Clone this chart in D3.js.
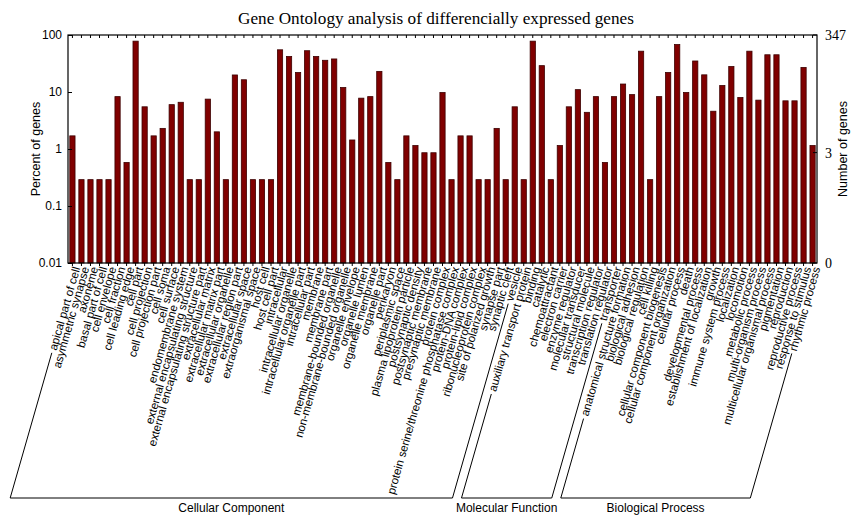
<!DOCTYPE html>
<html>
<head>
<meta charset="utf-8">
<script src="https://cdn.jsdelivr.net/npm/d3@7"></script>
<style>
  body { margin: 0; background: #fff; }
  svg  { display: block; }
</style>
</head>
<body>
<div id="chart"></div>
<script>
// ############################################################################
// Gene Ontology bar chart (log scale, three GO groups)
// ############################################################################

// ----------------------------------------------------------------------------
// Data
// ----------------------------------------------------------------------------

const cellularComponent = [
  "apical part of cell", "asymmetric synapse", "axoneme", "basal part of cell",
  "cell envelope", "cell fraction", "cell leading edge", "cell part",
  "cell projection", "cell projection part", "cell soma", "cell surface",
  "endomembrane system", "external encapsulating structure",
  "external encapsulating structure part", "extracellular matrix",
  "extracellular matrix part", "extracellular organelle",
  "extracellular region part", "extracellular space", "extraorganismal space",
  "host cell", "host cell part", "intracellular", "intracellular organelle",
  "intracellular organelle part", "intracellular part", "membrane",
  "membrane part", "membrane-bounded organelle",
  "non-membrane-bounded organelle", "organelle envelope", "organelle lumen",
  "organelle membrane", "organelle part", "perikaryon", "periplasmic space",
  "plasma lipoprotein particle", "postsynaptic density",
  "postsynaptic membrane", "presynaptic membrane", "protein complex",
  "protein serine/threonine phosphatase complex", "protein-DNA complex",
  "protein-lipid complex", "ribonucleoprotein complex",
  "site of polarized growth", "synapse part", "synaptic cleft", "vesicle"
]
const cellularValues = [
  1.7, 0.29, 0.29, 0.29, 0.29, 8.3, 0.58, 78, 5.5, 1.7, 2.3, 6.0, 6.6, 0.29,
  0.29, 7.5, 2.0, 0.29, 19.9, 16.4, 0.29, 0.29, 0.29, 55, 42, 22, 53, 42, 36,
  38, 12, 1.44, 7.8, 8.3, 23, 0.58, 0.29, 1.7, 1.15, 0.86, 0.86, 9.8, 0.29,
  1.7, 1.7, 0.29, 0.29, 2.3, 0.29, 5.5
]

const molecularFunction = [
  "auxiliary transport protein", "binding", "catalytic", "chemoattractant",
  "electron carrier", "enzyme regulator", "molecular transducer",
  "structural molecule", "transcription regulator", "translation regulator",
  "transporter"
]
const molecularValues = [0.29, 78, 29, 0.29, 1.15, 5.5, 11, 4.4, 8.3, 0.58, 8.3]

const biologicalProcess = [
  "anatomical structure formation", "biological adhesion",
  "biological regulation", "cell killing", "cellular component biogenesis",
  "cellular component organization", "cellular process", "death",
  "developmental process", "establishment of localization", "growth",
  "immune system process", "localization", "locomotion", "metabolic process",
  "multi-organism process", "multicellular organismal process",
  "pigmentation", "reproduction", "reproductive process",
  "response to stimulus", "rhythmic process"
]
const biologicalValues = [
  13.8, 9.0, 52, 0.29, 8.3, 22, 68, 9.8, 35, 20, 4.6, 13, 28, 8.0, 52, 7.2,
  45, 45, 7.0, 7.0, 27, 1.15
]

const groupNames   = ["Cellular Component", "Molecular Function", "Biological Process"]
const leftTicks    = [0.01, 0.1, 1, 10, 100]
const rightTicks   = [0, 3, 347]
const totalGenes   = 347

// ----------------------------------------------------------------------------
// Setup
// ----------------------------------------------------------------------------

const width  = 858
const height = 515
const plot   = { left: 68, right: 817, top: 35, bottom: 263 }
const baseY  = 498          // bottom line of the group brackets
const angle  = -74          // rotation of the category labels

const groups = [
  { name: groupNames[0], terms: cellularComponent, values: cellularValues },
  { name: groupNames[1], terms: molecularFunction, values: molecularValues },
  { name: groupNames[2], terms: biologicalProcess, values: biologicalValues }
]

const rows = groups.flatMap((g, gi) =>
  g.terms.map((t, i) => ({ term: t, value: g.values[i], group: gi })))

const svg = d3.select("#chart").append("svg")
  .attr("width", width)
  .attr("height", height)
  .style("font-family", "'Liberation Sans', Arial, sans-serif")

const x = d3.scaleBand()
  .domain(rows.map(d => d.term))
  .range([plot.left, plot.right])
  .paddingInner(0.42)
  .paddingOuter(0.2)

const y = d3.scaleLog()
  .domain([0.01, 100])
  .range([plot.bottom, plot.top])

// ----------------------------------------------------------------------------
// Title
// ----------------------------------------------------------------------------

svg.append("text")
  .attr("x", 436)
  .attr("y", 24)
  .attr("text-anchor", "middle")
  .style("font-family", "'Liberation Serif', 'Times New Roman', serif")
  .style("font-size", "17.2px")
  .text("Gene Ontology analysis of differencially expressed genes")

// ----------------------------------------------------------------------------
// Bars
// ----------------------------------------------------------------------------

svg.append("g").selectAll("rect")
  .data(rows)
  .join("rect")
    .attr("x", d => x(d.term))
    .attr("y", d => y(d.value))
    .attr("width", x.bandwidth())
    .attr("height", d => plot.bottom - y(d.value))
    .attr("fill", "#800000")
    .attr("stroke", "#3c0000")
    .attr("stroke-width", 0.8)

// ----------------------------------------------------------------------------
// Axes and frame
// ----------------------------------------------------------------------------

const leftAxis = svg.append("g")
  .attr("transform", `translate(${plot.left},0)`)
  .call(d3.axisRight(y).tickValues(leftTicks).tickSize(4).tickFormat(""))
leftAxis.select(".domain").remove()

svg.append("g").selectAll("text")
  .data(leftTicks)
  .join("text")
    .attr("x", plot.left - 6)
    .attr("y", d => y(d))
    .attr("dy", "0.35em")
    .attr("text-anchor", "end")
    .style("font-size", "12px")
    .text(d => d3.format("~g")(d))

// right axis: gene counts, mapped onto the percent scale
const countToY = c => c === 0 ? plot.bottom : y(c / totalGenes * 100)

svg.append("g").selectAll("line")
  .data(rightTicks)
  .join("line")
    .attr("x1", plot.right - 4)
    .attr("x2", plot.right)
    .attr("y1", countToY)
    .attr("y2", countToY)
    .attr("stroke", "#000")

svg.append("g").selectAll("text")
  .data(rightTicks)
  .join("text")
    .attr("x", plot.right + 8)
    .attr("y", countToY)
    .attr("dy", "0.35em")
    .style("font-family", "'Liberation Serif', 'Times New Roman', serif")
    .style("font-size", "14px")
    .text(d => d)

// small ticks at every bar, top and bottom
const topAxis = svg.append("g")
  .attr("transform", `translate(0,${plot.top})`)
  .call(d3.axisBottom(x).tickSize(3).tickFormat(""))
topAxis.select(".domain").remove()

const bottomAxis = svg.append("g")
  .attr("transform", `translate(0,${plot.bottom})`)
  .call(d3.axisBottom(x).tickSize(3).tickFormat(""))
bottomAxis.select(".domain").remove()

svg.append("rect")
  .attr("x", plot.left)
  .attr("y", plot.top)
  .attr("width", plot.right - plot.left)
  .attr("height", plot.bottom - plot.top)
  .attr("fill", "none")
  .attr("stroke", "#000")
  .attr("stroke-width", 1.2)

svg.append("text")
  .attr("transform", `translate(40,${(plot.top + plot.bottom) / 2}) rotate(-90)`)
  .attr("text-anchor", "middle")
  .style("font-size", "12.5px")
  .text("Percent of genes")

svg.append("text")
  .attr("transform", `translate(847,${(plot.top + plot.bottom) / 2}) rotate(-90)`)
  .attr("text-anchor", "middle")
  .style("font-size", "12.5px")
  .text("Number of genes")

// ----------------------------------------------------------------------------
// Category labels
// ----------------------------------------------------------------------------

const rad = angle * Math.PI / 180
const dir = [Math.cos(rad), Math.sin(rad)]   // direction of the text baseline
const labelY = plot.bottom + 4

const labels = svg.append("g").selectAll("text")
  .data(rows)
  .join("text")
    .attr("transform", d =>
      `translate(${x(d.term) + x.bandwidth() / 2 + 4},${labelY}) rotate(${angle})`)
    .attr("dy", "0.35em")
    .attr("text-anchor", "end")
    .style("font-size", "11.5px")
    .text(d => d.term)

// start point (lower left end) of each label
labels.each(function(d) {
  const len = this.getComputedTextLength() + 3
  const ax = x(d.term) + x.bandwidth() / 2 + 4
  d.sx = ax - dir[0] * len
  d.sy = labelY - dir[1] * len
})

// ----------------------------------------------------------------------------
// Group brackets
// ----------------------------------------------------------------------------

groups.forEach((g, gi) => {
  const items = rows.filter(r => r.group === gi)
  const first = items[0]
  const last  = items[items.length - 1]
  const slope = dir[0] / dir[1]
  const bx0 = first.sx + (baseY - first.sy) * slope
  const bx1 = last.sx  + (baseY - last.sy)  * slope

  svg.append("path")
    .attr("d", d3.line()([[first.sx, first.sy], [bx0, baseY], [bx1, baseY], [last.sx, last.sy]]))
    .attr("fill", "none")
    .attr("stroke", "#000")
    .attr("stroke-width", 1)

  svg.append("text")
    .attr("x", (bx0 + bx1) / 2)
    .attr("y", baseY + 14)
    .attr("text-anchor", "middle")
    .style("font-size", "12px")
    .text(g.name)
})
</script>
</body>
</html>
